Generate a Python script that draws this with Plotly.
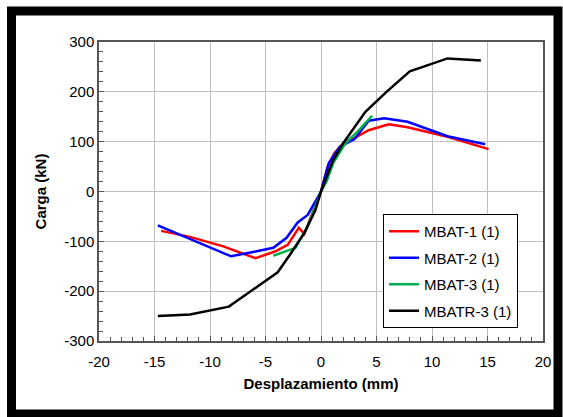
import plotly.graph_objects as go

# data (displacement mm, load kN)
mbat1_x = [-14.4, -11.8, -8.8, -5.9, -4.1, -3.0, -2.0, -1.5, -0.8, 0.0, 0.6, 1.2, 2.0, 3.0, 4.3, 6.1, 7.8, 11.4, 15.1]
mbat1_y = [-79, -91, -110, -134, -120, -107, -73, -85, -45, 0, 50, 77, 97, 107, 123, 135, 129, 110, 85]

mbat2_x = [-14.7, -8.1, -6.0, -4.3, -3.1, -2.1, -1.2, 0.0, 0.7, 1.7, 3.0, 4.3, 5.7, 7.8, 11.4, 14.8]
mbat2_y = [-68, -130, -121, -113, -93, -62, -47, 0, 57, 90, 105, 142, 147, 140, 111, 95]

mbat3_x = [-4.3, -2.3, -1.2, 0.0, 0.5, 1.1, 2.2, 3.3, 4.6]
mbat3_y = [-129, -113, -70, 0, 20, 57, 97, 120, 152]

mbatr3_x = [-14.7, -11.8, -8.3, -6.0, -3.9, -2.8, -1.5, -0.5, 0.0, 1.1, 2.0, 4.0, 5.9, 8.0, 11.4, 14.4]
mbatr3_y = [-250, -247, -231, -195, -162, -127, -83, -37, 0, 63, 97, 160, 200, 241, 267, 263]

x_ticks = [-20, -15, -10, -5, 0, 5, 10, 15, 20]
x_labels = ["-20", "-15", "-10", "-5", "0", "5", "10", "15", "20"]
y_ticks = [-300, -200, -100, 0, 100, 200, 300]
y_labels = ["-300", "-200", "-100", "0", "100", "200", "300"]

series = [
    ("MBAT-1 (1)", mbat1_x, mbat1_y, "#ff0000"),
    ("MBAT-2 (1)", mbat2_x, mbat2_y, "#0000ff"),
    ("MBAT-3 (1)", mbat3_x, mbat3_y, "#00b050"),
    ("MBATR-3 (1)", mbatr3_x, mbatr3_y, "#000000"),
]

fig = go.Figure()
for name, xs, ys, col in series:
    fig.add_trace(go.Scatter(
        x=xs, y=ys, name=name, mode="lines", legendgroup=name,
        line=dict(color=col, width=2.5)))

W, H = 563, 417
L, R, T, B = 99, 20, 42, 76
pw, ph = W - L - R, H - T - B

def px(x):
    return (x - L) / pw

def py(y):
    return (H - B - y) / ph

font = "Liberation Sans, Arial"
axis_common = dict(
    showline=True, linecolor="#555555", linewidth=1.5, mirror=True,
    showgrid=True, gridcolor="#c0c0c0", gridwidth=1,
    zeroline=False, ticks="inside", ticklen=5, tickcolor="#555555",
    tickfont=dict(family=font, size=15, color="black"),
)

fig.update_xaxes(
    range=[-20, 20], tickvals=x_ticks, ticktext=x_labels, ticklabelstandoff=6,
    minor=dict(dtick=1, tick0=0, ticks="inside", ticklen=4, tickcolor="#555555", showgrid=False),
    title=dict(text="<b>Desplazamiento (mm)</b>", standoff=10,
               font=dict(family=font, size=15, color="black")),
    **axis_common)
fig.update_yaxes(
    range=[-300, 300], tickvals=y_ticks, ticktext=y_labels,
    minor=dict(dtick=20, tick0=0, ticks="inside", ticklen=4, tickcolor="#555555", showgrid=False),
    title=dict(text="<b>Carga (kN)</b>", standoff=14,
               font=dict(family=font, size=15, color="black")),
    **axis_common)

# thick black frame around the whole picture
fig.add_shape(type="rect", xref="paper", yref="paper",
              x0=px(11.5), x1=px(558), y0=py(414), y1=py(11),
              line=dict(color="black", width=9), fillcolor="rgba(0,0,0,0)")

fig.update_layout(
    width=W, height=H,
    margin=dict(l=L, r=R, t=T, b=B, autoexpand=False),
    paper_bgcolor="white", plot_bgcolor="white",
    font=dict(family=font, size=15, color="black"),
    legend=dict(
        x=px(383), y=py(214), xanchor="left", yanchor="top",
        bgcolor="white", bordercolor="black", borderwidth=1,
        font=dict(size=15), itemwidth=30, tracegroupgap=4,
    ),
)

fig.write_html("out.html", config={"displayModeBar": False},
               post_script="document.body.style.margin='0';")
